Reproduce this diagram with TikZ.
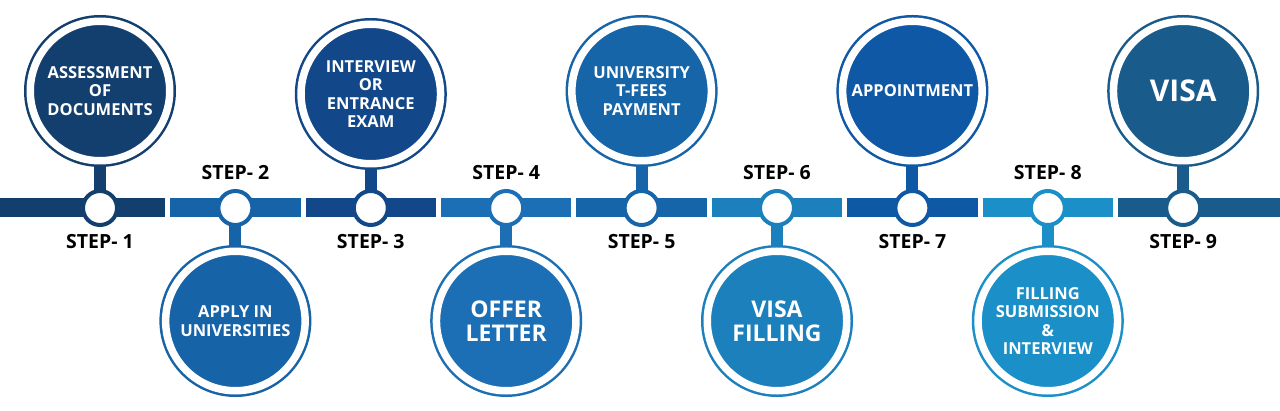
\documentclass[tikz,border=0pt]{standalone}
\usepackage{fontspec}
\setmainfont{Open Sans}
\usetikzlibrary{backgrounds}
\definecolor{c1}{HTML}{123F6E}
\definecolor{c2}{HTML}{1763A8}
\definecolor{c3}{HTML}{124889}
\definecolor{c4}{HTML}{1C6FB4}
\definecolor{c5}{HTML}{1665A9}
\definecolor{c6}{HTML}{1C80BD}
\definecolor{c7}{HTML}{0E58A5}
\definecolor{c8}{HTML}{1B8FC7}
\definecolor{c9}{HTML}{195B8B}
\begin{document}
\begin{tikzpicture}[x=1pt,y=1pt,
  bigc/.style={circle, inner sep=0pt, minimum size=139.5pt, fill=#1, draw=#1,
    line width=2.5pt, double=white, double distance=7.5pt, text=white, align=center,
    font=\fontsize{16.5}{18.5}\selectfont\bfseries},
  smallc/.style={circle, inner sep=0pt, minimum size=34pt, fill=white, draw=#1, line width=4pt},
  segm/.style={rectangle, inner sep=0pt, minimum height=19pt, fill=#1},
  stemline/.style={line width=12pt, draw=#1},
  steplbl/.style={font=\fontsize{19.5}{22}\selectfont\bfseries, text=black, inner sep=0pt},
  bigtxt/.style={font=\fontsize{23}{24}\selectfont\bfseries},
  hugetxt/.style={font=\fontsize{30}{32}\selectfont\bfseries}
]
% step markers on the bar
\node[smallc=c1] (p1) at (100.0,202) {};
\node[smallc=c2] (p2) at (235.4,202) {};
\node[smallc=c3] (p3) at (370.8,202) {};
\node[smallc=c4] (p4) at (506.2,202) {};
\node[smallc=c5] (p5) at (641.6,202) {};
\node[smallc=c6] (p6) at (777.0,202) {};
\node[smallc=c7] (p7) at (912.4,202) {};
\node[smallc=c8] (p8) at (1047.8,202) {};
\node[smallc=c9] (p9) at (1183.2,202) {};
% big circles
\node[bigc=c1] (b1) at (100.0,319) {ASSESSMENT\\OF\\DOCUMENTS};
\node[bigc=c2] (b2) at (235.4,89) {APPLY IN\\UNIVERSITIES};
\node[bigc=c3] (b3) at (370.8,316) {INTERVIEW\\OR\\ENTRANCE\\EXAM};
\node[bigc=c4, bigtxt] (b4) at (506.2,89) {OFFER\\LETTER};
\node[bigc=c5] (b5) at (641.6,319) {UNIVERSITY\\T-FEES\\PAYMENT};
\node[bigc=c6, bigtxt] (b6) at (777.0,89) {VISA\\FILLING};
\node[bigc=c7] (b7) at (912.4,319) {APPOINTMENT};
\node[bigc=c8] (b8) at (1047.8,89) {FILLING\\SUBMISSION\\\&\\INTERVIEW};
\node[bigc=c9, hugetxt] (b9) at (1183.2,319) {VISA};
% labels
\node[steplbl] (l1) at (100.0,168) {STEP- 1};
\node[steplbl] (l2) at (235.4,237) {STEP- 2};
\node[steplbl] (l3) at (370.8,168) {STEP- 3};
\node[steplbl] (l4) at (506.2,237) {STEP- 4};
\node[steplbl] (l5) at (641.6,168) {STEP- 5};
\node[steplbl] (l6) at (777.0,237) {STEP- 6};
\node[steplbl] (l7) at (912.4,168) {STEP- 7};
\node[steplbl] (l8) at (1047.8,237) {STEP- 8};
\node[steplbl] (l9) at (1183.2,168) {STEP- 9};
\begin{scope}[on background layer]
  \path[use as bounding box, fill=white] (0,0) rectangle (1280,410);
  % bar segments
  \node[segm=c1, minimum width=165.2pt] (s1) at (82.6,202) {};
  \node[segm=c2, minimum width=130.4pt] (s2) at (235.4,202) {};
  \node[segm=c3, minimum width=130.4pt] (s3) at (370.8,202) {};
  \node[segm=c4, minimum width=130.4pt] (s4) at (506.2,202) {};
  \node[segm=c5, minimum width=130.4pt] (s5) at (641.6,202) {};
  \node[segm=c6, minimum width=130.4pt] (s6) at (777.0,202) {};
  \node[segm=c7, minimum width=130.4pt] (s7) at (912.4,202) {};
  \node[segm=c8, minimum width=130.4pt] (s8) at (1047.8,202) {};
  \node[segm=c9, minimum width=162pt] (s9) at (1199,202) {};
  % stems
  \draw[stemline=c1] (b1.center) -- (p1.center);
  \draw[stemline=c2] (b2.center) -- (p2.center);
  \draw[stemline=c3] (b3.center) -- (p3.center);
  \draw[stemline=c4] (b4.center) -- (p4.center);
  \draw[stemline=c5] (b5.center) -- (p5.center);
  \draw[stemline=c6] (b6.center) -- (p6.center);
  \draw[stemline=c7] (b7.center) -- (p7.center);
  \draw[stemline=c8] (b8.center) -- (p8.center);
  \draw[stemline=c9] (b9.center) -- (p9.center);
\end{scope}
\end{tikzpicture}
\end{document}
